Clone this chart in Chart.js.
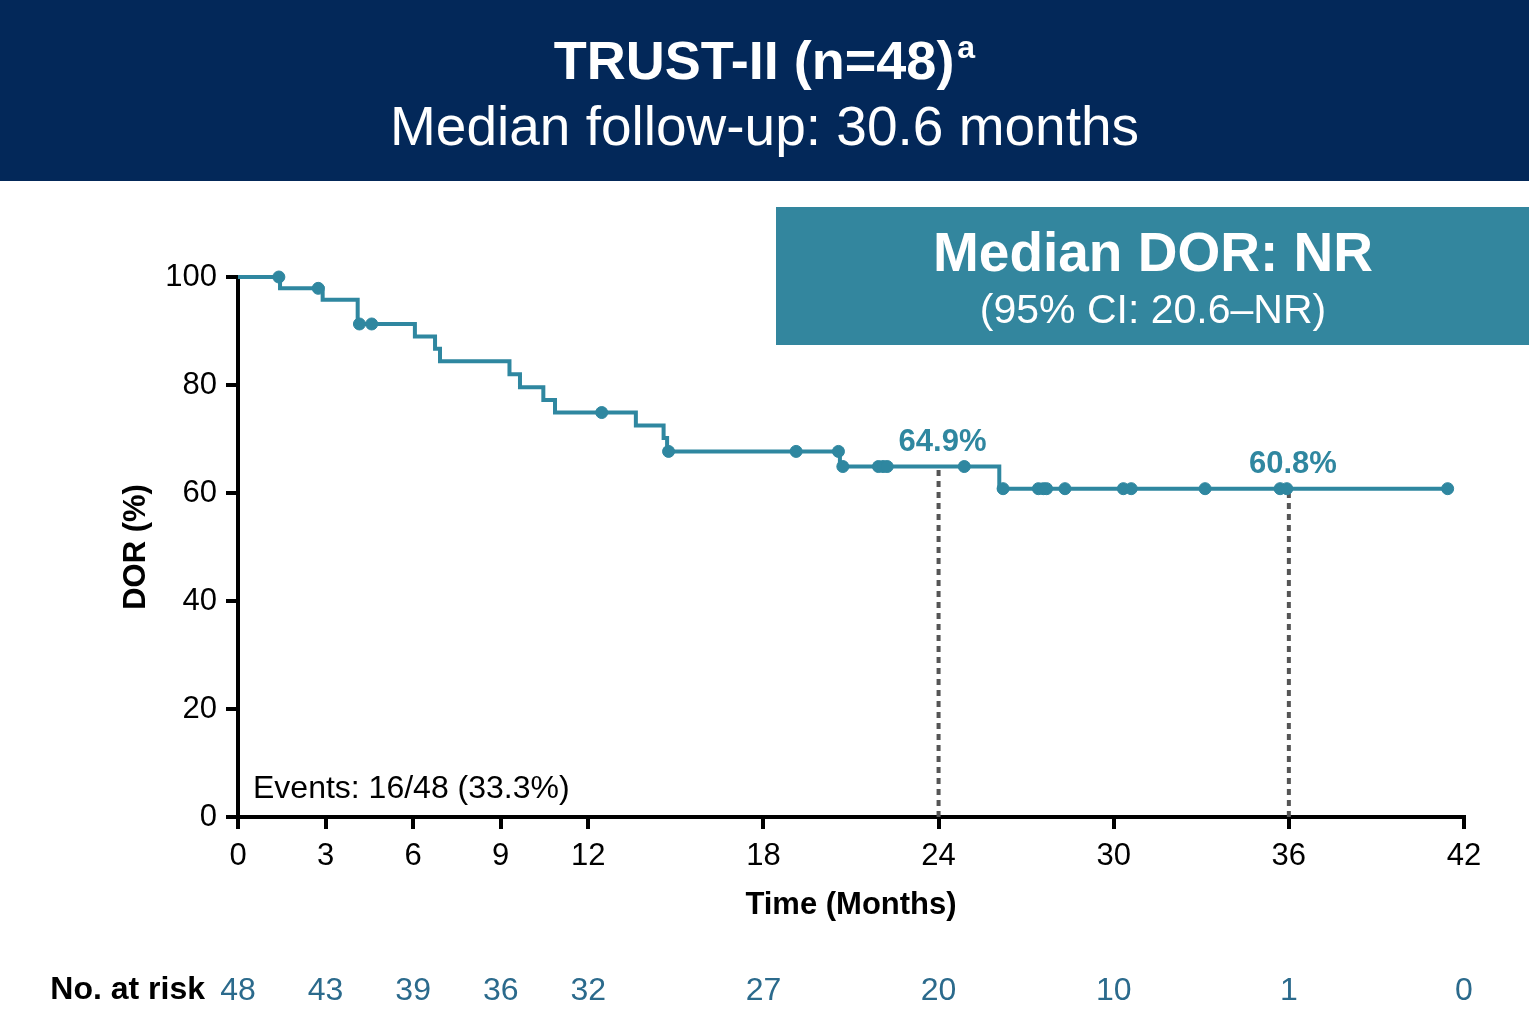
<!DOCTYPE html>
<html lang="en">
<head>
  <meta charset="UTF-8">
  <title>TRUST-II DOR</title>
  <script src="https://cdn.jsdelivr.net/npm/chart.js"></script>
  <style>
    body { margin: 0; background: #fff; }
    #wrap { width: 1529px; height: 1029px; }
  </style>
</head>
<body>
  <div id="wrap"><canvas id="grafico" width="1529" height="1029"></canvas></div>

  <script>
    // KM step curve (time in months, DOR %)
    const eventTimes = [0, 1.44, 2.9, 4.1, 6.06, 6.75, 6.92, 9.3, 9.66, 10.46, 10.86, 13.63, 14.58, 14.7, 20.62, 26.08, 41.44];
    const survival   = [100, 97.9, 95.8, 91.3, 89.0, 86.7, 84.4, 82.0, 79.6, 77.2, 74.9, 72.5, 70.2, 67.7, 64.9, 60.8, 60.8];

    // censored observations
    const censorTimes = [1.40, 2.75, 4.16, 4.58, 12.46, 14.75, 19.12, 20.57, 20.72, 21.94, 22.1, 22.24, 24.88,
                         26.21, 27.42, 27.59, 27.7, 28.33, 30.33, 30.6, 33.13, 35.7, 35.93, 41.44];

    // landmark estimates
    const landmarkTimes  = [24, 36];
    const landmarkValues = [64.9, 60.8];
    const landmarkLabels = ['64.9%', '60.8%'];

    // x ticks and number at risk
    const xTicks     = [0, 3, 6, 9, 12, 18, 24, 30, 36, 42];
    const riskCounts = [48, 43, 39, 36, 32, 27, 20, 10, 1, 0];
    const yTicks     = [0, 20, 40, 60, 80, 100];

    const TEAL = '#2f87a0';
    const NAVY = '#032859';
    const FONT = '"Liberation Sans", Arial, sans-serif';

    // level of the step curve at time t
    function nivel(t) {
      let v = survival[0];
      for (let i = 0; i < eventTimes.length; i++) {
        if (eventTimes[i] <= t) v = survival[i];
      }
      return v;
    }

    const curva = eventTimes.map((t, i) => ({ x: t, y: survival[i] }));
    const censuras = censorTimes.map(t => ({ x: t, y: nivel(t) }));
    const lineasLandmark = landmarkTimes.map((t, i) => ({
      type: 'line',
      data: [{ x: t, y: 0 }, { x: t, y: landmarkValues[i] }],
      borderColor: '#555555',
      borderWidth: 4,
      borderDash: [6, 5],
      pointRadius: 0,
      order: 3
    }));

    const decoracion = {
      id: 'decoracion',
      beforeDraw(chart) {
        const ctx = chart.ctx;
        ctx.save();
        ctx.fillStyle = '#fff';
        ctx.fillRect(0, 0, chart.width, chart.height);
        ctx.fillStyle = NAVY;
        ctx.fillRect(0, 0, chart.width, 181);
        ctx.fillStyle = '#33869e';
        ctx.fillRect(776, 207, chart.width - 776, 138);
        ctx.restore();
      },
      afterDraw(chart) {
        const ctx = chart.ctx;
        const xs = chart.scales.x, ys = chart.scales.y;
        ctx.save();

        // header
        ctx.fillStyle = '#fff';
        ctx.textBaseline = 'alphabetic';
        const t1 = 'TRUST-II (n=48)';
        ctx.font = 'bold 32px ' + FONT;
        const wa = ctx.measureText('a').width;
        ctx.font = 'bold 54px ' + FONT;
        const w1 = ctx.measureText(t1).width;
        const x1 = chart.width / 2 - (w1 + wa + 3) / 2;
        ctx.textAlign = 'left';
        ctx.fillText(t1, x1, 79);
        ctx.font = 'bold 32px ' + FONT;
        ctx.fillText('a', x1 + w1 + 3, 58);
        ctx.textAlign = 'center';
        ctx.font = '55px ' + FONT;
        ctx.fillText('Median follow-up: 30.6 months', chart.width / 2, 145);

        // median box
        ctx.font = 'bold 55px ' + FONT;
        ctx.fillText('Median DOR: NR', 1153, 271);
        ctx.font = '41px ' + FONT;
        ctx.fillText('(95% CI: 20.6\u2013NR)', 1153, 323);

        // events
        ctx.fillStyle = '#000';
        ctx.textAlign = 'left';
        ctx.textBaseline = 'middle';
        ctx.font = '32px ' + FONT;
        ctx.fillText('Events: 16/48 (33.3%)', xs.left + 15, ys.bottom - 28);

        // landmark labels
        ctx.fillStyle = TEAL;
        ctx.textAlign = 'center';
        ctx.font = 'bold 31px ' + FONT;
        landmarkTimes.forEach((t, i) => {
          ctx.fillText(landmarkLabels[i], xs.getPixelForValue(t) + 4, ys.getPixelForValue(landmarkValues[i]) - 24);
        });

        // number at risk
        ctx.fillStyle = '#000';
        ctx.textAlign = 'right';
        ctx.font = 'bold 32px ' + FONT;
        ctx.fillText('No. at risk', 205, 990);
        ctx.fillStyle = '#2b6a8c';
        ctx.textAlign = 'center';
        ctx.font = '32px ' + FONT;
        xTicks.forEach((t, i) => {
          ctx.fillText(String(riskCounts[i]), xs.getPixelForValue(t), 991);
        });
        ctx.restore();
      }
    };

    Chart.defaults.font.family = FONT;
    Chart.defaults.color = '#000';

    new Chart(document.getElementById('grafico').getContext('2d'), {
      type: 'scatter',
      data: {
        datasets: [
          {
            type: 'line',
            data: curva,
            stepped: true,
            borderColor: TEAL,
            borderWidth: 4,
            pointRadius: 0,
            fill: false,
            order: 2
          },
          {
            data: censuras,
            backgroundColor: TEAL,
            borderColor: TEAL,
            pointRadius: 6,
            pointHoverRadius: 6,
            order: 1
          },
          ...lineasLandmark
        ]
      },
      options: {
        responsive: false,
        animation: false,
        events: [],
        clip: false,
        layout: { padding: { left: 118, top: 277, right: 65, bottom: 105 } },
        plugins: { legend: { display: false }, tooltip: { enabled: false } },
        scales: {
          x: {
            type: 'linear',
            min: 0,
            max: 42,
            afterBuildTicks: s => { s.ticks = xTicks.map(v => ({ value: v })); },
            afterFit: s => { s.height = 107; },
            grid: { drawOnChartArea: false, drawTicks: true, tickLength: 12, color: '#000', lineWidth: 4 },
            border: { color: '#000', width: 4 },
            ticks: { font: { size: 31 }, color: '#000', padding: 9, maxRotation: 0 },
            title: { display: true, text: 'Time (Months)', font: { size: 31, weight: 'bold' }, padding: 0, color: '#000' }
          },
          y: {
            min: 0,
            max: 100,
            afterBuildTicks: s => { s.ticks = yTicks.map(v => ({ value: v })); },
            afterFit: s => { s.width = 120; },
            grid: { drawOnChartArea: false, drawTicks: true, tickLength: 12, color: '#000', lineWidth: 4 },
            border: { color: '#000', width: 4 },
            ticks: { font: { size: 31 }, color: '#000', padding: 9 },
            title: { display: true, text: 'DOR (%)', font: { size: 31, weight: 'bold' }, padding: 0, color: '#000' }
          }
        }
      },
      plugins: [decoracion]
    });
  </script>
</body>
</html>
